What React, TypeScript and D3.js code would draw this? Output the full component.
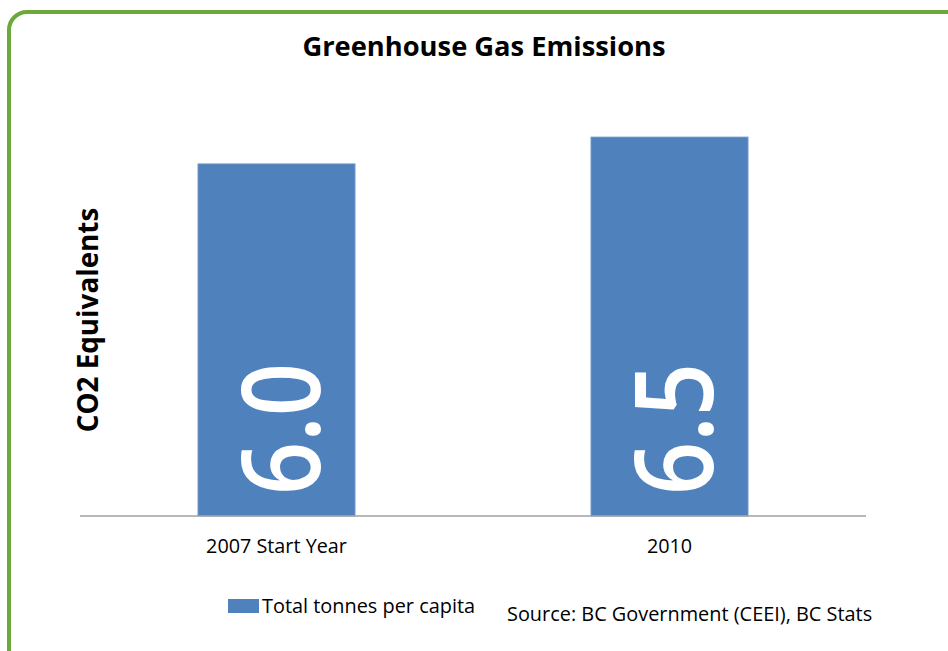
import React from "react";
import * as d3 from "d3";

const categories = ["2007 Start Year", "2010"];
const values = [6.04, 6.5];
const seriesName = "Total tonnes per capita";
const title = "Greenhouse Gas Emissions";
const yTitle = "CO2 Equivalents";
const source = "Source: BC Government (CEEI), BC Stats";

const W = 948;
const H = 651;
const FONT = "'Open Sans', Lato, sans-serif";

export default function App() {
  const x = d3
    .scaleBand<string>()
    .domain(categories)
    .range([80, 866])
    .paddingInner(0.6)
    .paddingOuter(0.3);
  const y = d3.scaleLinear().domain([0, 7]).range([516, 516 - 7 * 58.31]);
  const fmt = d3.format(".1f");
  const bw = x.bandwidth();

  return (
    <svg
      width={W}
      height={H}
      style={{ position: "absolute", left: 0, top: 0, background: "#fff" }}
    >
      <rect
        x={9}
        y={12}
        width={980}
        height={700}
        rx={18}
        ry={18}
        fill="#fff"
        stroke="#6ca83a"
        strokeWidth={4}
      />
      <text
        x={484}
        y={56}
        textAnchor="middle"
        fontFamily={FONT}
        fontWeight="bold"
        fontSize={27.3}
        fill="#000"
      >
        {title}
      </text>
      <text
        transform={`translate(98,320) rotate(-90)`}
        textAnchor="middle"
        fontFamily={FONT}
        fontWeight="bold"
        fontSize={27.8}
        fill="#000"
      >
        {yTitle}
      </text>
      {categories.map((c, i) => (
        <g key={c}>
          <rect
            x={x(c)}
            y={y(values[i])}
            width={bw}
            height={y(0) - y(values[i])}
            fill="#4f81bd"
            stroke="#86a7d3"
            strokeWidth={0.8}
          />
          <text
            transform={`translate(${(x(c) as number) + bw / 2 + 43},${y(0) - 21}) rotate(-90)`}
            textAnchor="start"
            fontFamily={FONT}
            fontWeight={600}
            fontSize={108}
            textLength={132}
            lengthAdjust="spacingAndGlyphs"
            fill="#fff"
          >
            {fmt(values[i])}
          </text>
          <text
            x={(x(c) as number) + bw / 2}
            y={553}
            textAnchor="middle"
            fontFamily={FONT}
            fontSize={19.8}
            fill="#000"
          >
            {c}
          </text>
        </g>
      ))}
      <line x1={80} x2={866} y1={y(0)} y2={y(0)} stroke="#a0a0a0" strokeWidth={1.5} />
      <rect x={228} y={599} width={31} height={14} fill="#4f81bd" />
      <text x={262} y={613} fontFamily={FONT} fontSize={19.9} fill="#000">
        {seriesName}
      </text>
      <text x={507} y={621} fontFamily={FONT} fontSize={19.9} fill="#000">
        {source}
      </text>
    </svg>
  );
}
